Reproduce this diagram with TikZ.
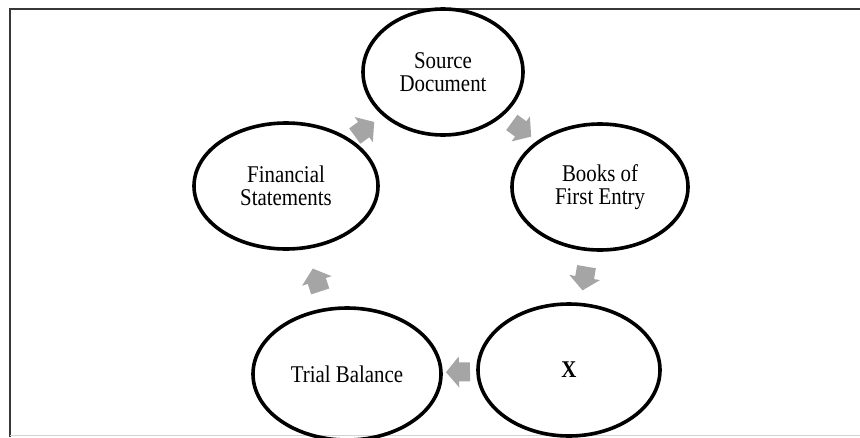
\documentclass[tikz,border=0pt]{standalone}
\usepackage{fontspec}
\setmainfont{Liberation Serif}[FakeStretch=0.87]
\usetikzlibrary{shapes.geometric,calc}
\definecolor{arrowgray}{RGB}{165,165,165}
\definecolor{framegray}{RGB}{55,55,55}
\begin{document}
\begin{tikzpicture}[x=1pt,y=-1pt,
  stage/.style={ellipse, draw=black, line width=3.6pt, align=center, inner sep=0pt,
    font=\fontsize{24}{22.5}\selectfont},
  pics/cyclearrow/.style={code={
    \fill[arrowgray] (-12,-9.5) -- (-1,-9.5) -- (-1,-15.5) -- (12,0)
      -- (-1,15.5) -- (-1,9.5) -- (-12,9.5) -- cycle;}}]
\useasboundingbox (0,0) rectangle (860,437);
\fill[white] (0,0) rectangle (860,437);
\draw[framegray, line width=2pt] (10,437) -- (10,9) -- (860,9);
\draw[gray!35, line width=1pt] (10,435) -- (860,435);

\node[stage, minimum width=160pt, minimum height=126pt] (src) at (443,72) {Source\\Document};
\node[stage, minimum width=176pt, minimum height=126pt] (bfe) at (600,187) {Books of\\First Entry};
\node[stage, minimum width=182pt, minimum height=132pt] (x) at (569,370) {\textbf{X}};
\node[stage, minimum width=188pt, minimum height=132pt] (tb) at (347,374) {Trial Balance};
\node[stage, minimum width=184pt, minimum height=126pt] (fs) at (286,186) {Financial\\Statements};

\path let \p1=(src.center), \p2=(bfe.center), \n1={atan2(\y2-\y1,\x2-\x1)} in
  ($(src.center)!0.5!(bfe.center)$) pic[rotate=\n1] {cyclearrow};
\path let \p1=(bfe.center), \p2=(x.center), \n1={atan2(\y2-\y1,\x2-\x1)} in
  ($(bfe.center)!0.5!(x.center)$) pic[rotate=\n1] {cyclearrow};
\path let \p1=(x.center), \p2=(tb.center), \n1={atan2(\y2-\y1,\x2-\x1)} in
  ($(x.center)!0.5!(tb.center)$) pic[rotate=\n1] {cyclearrow};
\path let \p1=(tb.center), \p2=(fs.center), \n1={atan2(\y2-\y1,\x2-\x1)} in
  ($(tb.center)!0.5!(fs.center)$) pic[rotate=\n1] {cyclearrow};
\path let \p1=(fs.center), \p2=(src.center), \n1={atan2(\y2-\y1,\x2-\x1)} in
  ($(fs.center)!0.5!(src.center)$) pic[rotate=\n1] {cyclearrow};
\end{tikzpicture}
\end{document}
